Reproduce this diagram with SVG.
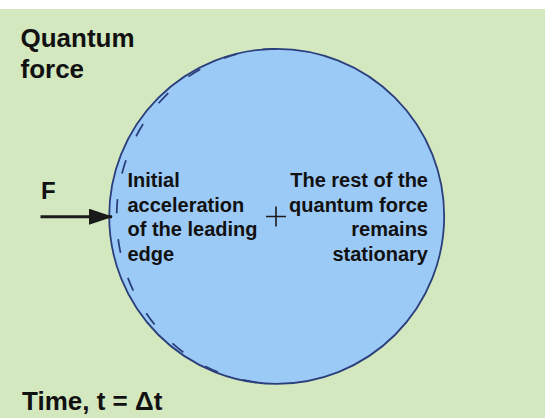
<svg xmlns="http://www.w3.org/2000/svg" width="545" height="418" viewBox="0 0 545 418">
  <defs>
    <style>
      .t { font-family: "Liberation Sans", Arial, Helvetica, sans-serif; font-weight: bold; fill: #111111; }
      .big { font-size: 26px; }
      .body { font-size: 20px; }
      .edge { fill: none; stroke: #2b3f7c; stroke-width: 1.8; }
    </style>
    <marker id="head" viewBox="0 0 24 16" refX="23" refY="8" markerWidth="24" markerHeight="16" markerUnits="userSpaceOnUse" orient="auto">
      <path d="M0,0 L24,8 L0,16 z" fill="#1a1a1a"/>
    </marker>
  </defs>
  <rect x="0" y="0" width="545" height="418" fill="#ffffff"/>
  <rect x="0" y="9" width="545" height="409" fill="#d3e8bf"/>

  <g id="quantum-force">
    <circle cx="276.7" cy="216.3" r="167.5" fill="#9ccaf7" stroke="#2b3f7c" stroke-width="1.8"/>
    <path class="edge" d="M276.7,48.8 A160,167.5 0 0 0 276.7,383.8" stroke-dasharray="14 26" stroke-dashoffset="-40"/>
    <path d="M266,216.5 H286 M276,206.5 V226.5" stroke="#1a1a1a" stroke-width="1.6" fill="none"/>
  </g>

  <g id="connectors">
    <line x1="40.5" y1="216.7" x2="112" y2="216.7" stroke="#1a1a1a" stroke-width="3" marker-end="url(#head)"/>
  </g>

  <g id="title">
    <text class="t big" x="20.5" y="46.7">Quantum</text>
    <text class="t big" x="20.5" y="78">force</text>
  </g>

  <g id="force-label">
    <text class="t" font-size="24" x="41" y="199.3">F</text>
  </g>

  <g id="leading-edge-label">
    <text class="t body" x="127.5" y="187">Initial</text>
    <text class="t body" x="127.5" y="211.5">acceleration</text>
    <text class="t body" x="127.5" y="236">of the leading</text>
    <text class="t body" x="127.5" y="260.5">edge</text>
  </g>

  <g id="rest-label">
    <text class="t body" x="428" y="187" text-anchor="end">The rest of the</text>
    <text class="t body" x="428" y="211.5" text-anchor="end">quantum force</text>
    <text class="t body" x="428" y="236" text-anchor="end">remains</text>
    <text class="t body" x="428" y="260.5" text-anchor="end">stationary</text>
  </g>

  <g id="time-label">
    <text class="t" font-size="26" x="22" y="410">Time, t = Δt</text>
  </g>
</svg>
